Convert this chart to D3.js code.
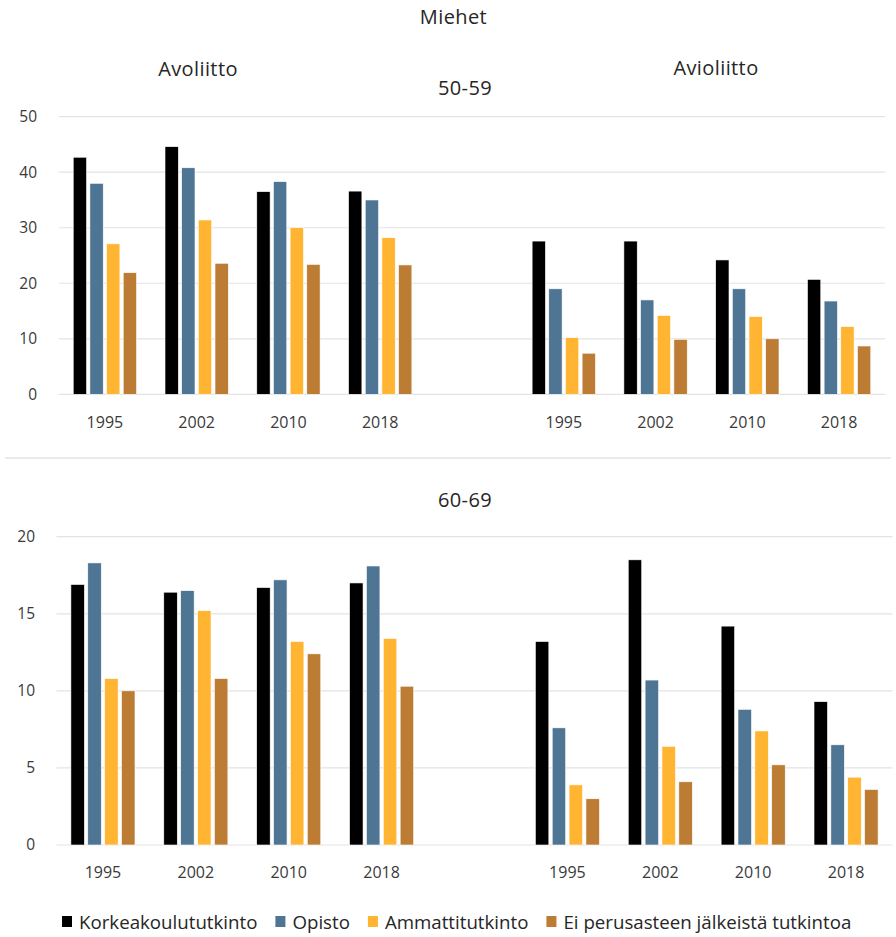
<!DOCTYPE html>
<html>
<head>
<meta charset="utf-8">
<script src="https://cdn.jsdelivr.net/npm/d3@7"></script>
<style>
  html, body { margin: 0; padding: 0; background: #ffffff; }
  svg { display: block; font-family: "Open Sans", "DejaVu Sans", sans-serif; }
</style>
</head>
<body>
<svg id="chart" width="896" height="937"></svg>
<script>
// ---------- DATA ----------
const years = ["1995", "2002", "2010", "2018"];
const series = ["Korkeakoulututkinto", "Opisto", "Ammattitutkinto", "Ei perusasteen jälkeistä tutkintoa"];
const colors = ["#000000", "#4e7594", "#ffb432", "#bc7c34"];

// 50-59, Avoliitto (per series, per year)
const avo5059_korkea = [42.7, 44.6, 36.5, 36.6];
const avo5059_opisto = [38.0, 40.8, 38.3, 35.0];
const avo5059_ammatti = [27.1, 31.4, 30.0, 28.2];
const avo5059_ei = [21.9, 23.6, 23.4, 23.3];
// 50-59, Avioliitto
const avi5059_korkea = [27.6, 27.6, 24.2, 20.7];
const avi5059_opisto = [19.0, 17.0, 19.0, 16.8];
const avi5059_ammatti = [10.2, 14.2, 14.0, 12.2];
const avi5059_ei = [7.4, 9.9, 10.0, 8.7];
// 60-69, Avoliitto
const avo6069_korkea = [16.9, 16.4, 16.7, 17.0];
const avo6069_opisto = [18.3, 16.5, 17.2, 18.1];
const avo6069_ammatti = [10.8, 15.2, 13.2, 13.4];
const avo6069_ei = [10.0, 10.8, 12.4, 10.3];
// 60-69, Avioliitto
const avi6069_korkea = [13.2, 18.5, 14.2, 9.3];
const avi6069_opisto = [7.6, 10.7, 8.8, 6.5];
const avi6069_ammatti = [3.9, 6.4, 7.4, 4.4];
const avi6069_ei = [3.0, 4.1, 5.2, 3.6];

const ticks5059 = [0, 10, 20, 30, 40, 50];
const ticks6069 = [0, 5, 10, 15, 20];

const title = "Miehet";
const groupTitles = ["Avoliitto", "Avioliitto"];
const ageTitles = ["50-59", "60-69"];

// ---------- BUILD ----------
const svg = d3.select("#chart");
const textColor = "#262626";
const tickColor = "#3a3a3a";
const gridColor = "#e3e3e3";

function panelRows(avo, avi) {
  // slots: 4 Avoliitto years, empty gap, 4 Avioliitto years
  const slots = [];
  years.forEach((y, i) => slots.push({ key: "avo" + i, label: y, values: avo.map(s => s[i]) }));
  slots.push({ key: "gap", label: "", values: [] });
  years.forEach((y, i) => slots.push({ key: "avi" + i, label: y, values: avi.map(s => s[i]) }));
  return slots;
}

function drawPanel(cfg) {
  const g = svg.append("g");
  const x0 = d3.scaleBand()
    .domain(cfg.slots.map(d => d.key))
    .range([cfg.x0, cfg.x1])
    .paddingInner(0.31)
    .paddingOuter(0.155);
  const x1 = d3.scaleBand()
    .domain(series)
    .range([0, x0.bandwidth()])
    .paddingInner(0.2)
    .paddingOuter(0);
  const y = d3.scaleLinear().domain([0, cfg.max]).range([cfg.yBottom, cfg.yTop]);

  // gridlines
  g.append("g").selectAll("line").data(cfg.ticks).join("line")
    .attr("x1", cfg.x0).attr("x2", cfg.x1)
    .attr("y1", d => y(d)).attr("y2", d => y(d))
    .attr("stroke", gridColor).attr("stroke-width", 1.2);

  // y axis labels
  const yAxis = d3.axisLeft(y).tickValues(cfg.ticks).tickSize(0).tickPadding(0);
  const ya = g.append("g").attr("transform", `translate(${cfg.yLabelX},0)`).call(yAxis);
  ya.select(".domain").remove();
  ya.selectAll("text").attr("font-size", 15.5).attr("fill", tickColor)
    .attr("font-family", '"Open Sans", sans-serif');

  // x axis labels
  const xAxis = d3.axisBottom(x0).tickSize(0).tickPadding(0)
    .tickFormat(k => cfg.slots.find(s => s.key === k).label);
  const xa = g.append("g").attr("transform", `translate(0,${cfg.xLabelY})`).call(xAxis);
  xa.select(".domain").remove();
  xa.selectAll("text").attr("font-size", 16).attr("fill", tickColor)
    .attr("dy", "0.32em").attr("y", 0)
    .attr("font-family", '"Open Sans", sans-serif');

  // bars
  const groups = g.append("g").selectAll("g").data(cfg.slots).join("g")
    .attr("transform", d => `translate(${x0(d.key)},0)`);
  groups.selectAll("rect")
    .data(d => d.values.map((v, i) => ({ s: series[i], v, i })))
    .join("rect")
    .attr("x", d => x1(d.s))
    .attr("width", x1.bandwidth())
    .attr("y", d => y(d.v))
    .attr("height", d => y(0) - y(d.v))
    .attr("fill", d => colors[d.i])
    .attr("stroke", "#ffffff").attr("stroke-width", 0.6);
}

// Panel 50-59
drawPanel({
  slots: panelRows(
    [avo5059_korkea, avo5059_opisto, avo5059_ammatti, avo5059_ei],
    [avi5059_korkea, avi5059_opisto, avi5059_ammatti, avi5059_ei]),
  x0: 59, x1: 885, yTop: 116.7, yBottom: 394.3, max: 50,
  ticks: ticks5059, yLabelX: 37, xLabelY: 423
});

// Panel 60-69
drawPanel({
  slots: panelRows(
    [avo6069_korkea, avo6069_opisto, avo6069_ammatti, avo6069_ei],
    [avi6069_korkea, avi6069_opisto, avi6069_ammatti, avi6069_ei]),
  x0: 56.5, x1: 892.5, yTop: 536.7, yBottom: 845, max: 20,
  ticks: ticks6069, yLabelX: 35, xLabelY: 873
});

// separator line between panels
svg.append("line")
  .attr("x1", 5).attr("x2", 891).attr("y1", 458).attr("y2", 458)
  .attr("stroke", gridColor).attr("stroke-width", 1.5);

// titles
const titleStyle = sel => sel.attr("fill", textColor).attr("font-size", 20)
  .attr("letter-spacing", 0.4).attr("text-anchor", "middle");
svg.append("text").text(title).attr("x", 453.5).attr("y", 24).call(titleStyle);
svg.append("text").text(groupTitles[0]).attr("x", 198).attr("y", 76).call(titleStyle);
svg.append("text").text(groupTitles[1]).attr("x", 716).attr("y", 75).call(titleStyle);
svg.append("text").text(ageTitles[0]).attr("x", 465).attr("y", 95).call(titleStyle);
svg.append("text").text(ageTitles[1]).attr("x", 465).attr("y", 507).call(titleStyle);

// legend
const legend = svg.append("g").attr("transform", "translate(62,922)");
const legendFont = 18.7;
let lx = 0;
series.forEach((s, i) => {
  const item = legend.append("g").attr("transform", `translate(${lx},0)`);
  item.append("rect").attr("x", 0).attr("y", -6).attr("width", 10).attr("height", 11)
    .attr("fill", colors[i]);
  const t = item.append("text").text(s).attr("x", 17).attr("y", 0).attr("dy", "0.35em")
    .attr("font-size", legendFont).attr("fill", textColor);
  lx += 17 + t.node().getComputedTextLength() + 18;
});
</script>
</body>
</html>
